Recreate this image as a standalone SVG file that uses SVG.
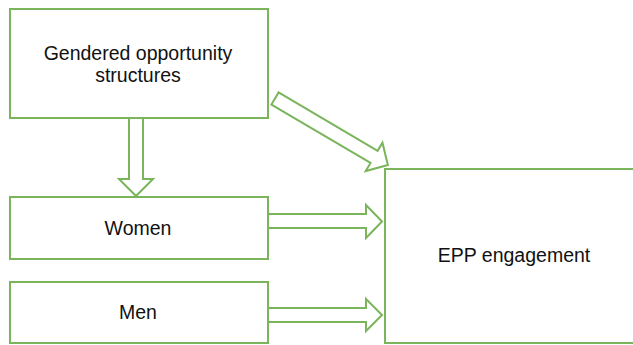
<svg xmlns="http://www.w3.org/2000/svg" width="633" height="345" viewBox="0 0 633 345">
<style>
.box{fill:#ffffff;stroke:#7ab55c;stroke-width:2}
.arr{fill:#ffffff;stroke:#7ab55c;stroke-width:2;stroke-linejoin:miter}
.lbl{font-family:"Liberation Sans",Arial,sans-serif;font-size:19.5px;fill:#111111;text-anchor:middle}
</style>
<rect width="633" height="345" fill="#ffffff"/>
<g id="gendered">
<rect class="box" x="10" y="9" width="258" height="109"/>
<text class="lbl" x="138" y="60">Gendered opportunity</text>
<text class="lbl" x="138" y="82">structures</text>
</g>
<g id="women">
<rect class="box" x="10" y="197" width="258" height="62"/>
<text class="lbl" x="138" y="235">Women</text>
</g>
<g id="men">
<rect class="box" x="10" y="282" width="258" height="61"/>
<text class="lbl" x="138" y="319">Men</text>
</g>
<g id="epp">
<rect class="box" x="385" y="169" width="260" height="174"/>
<text class="lbl" x="514" y="262">EPP engagement</text>
</g>
<g id="connectors">
<polygon class="arr" points="129,118 143,118 143,179 153,179 136,196 119,179 129,179"/>
<polygon class="arr" points="268,214 366,214 366,205 382,221.5 366,238 366,228 268,228"/>
<polygon class="arr" points="268,308 366,308 366,299 382,315 366,331 366,322 268,322"/>
<polygon class="arr" transform="translate(275,98.5) rotate(30.5)" points="0,-7 115,-7 115,-16.5 131,0 115,16.5 115,7 0,7"/>
</g>
</svg>
